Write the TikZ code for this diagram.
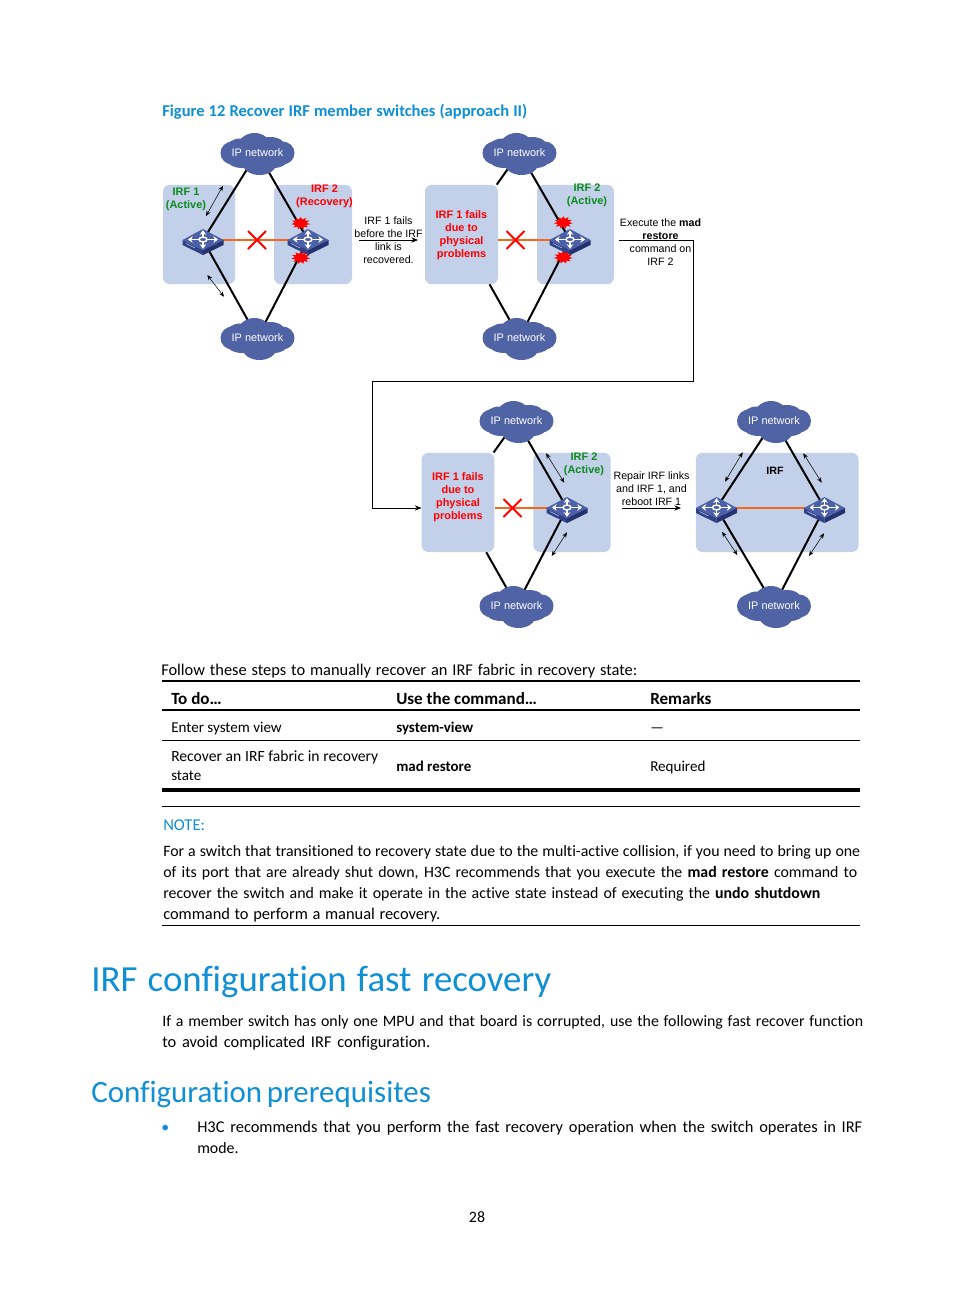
\documentclass[tikz,border=0pt]{standalone}
\usepackage{fontspec}
\setmainfont{Liberation Sans}
\newfontfamily\pagefont[Ligatures=NoCommon]{Carlito}
\usetikzlibrary{arrows.meta,shapes.geometric}
\definecolor{cloudblue}{HTML}{4F63A5}
\definecolor{panelblue}{HTML}{C2D0E9}
\definecolor{linkorange}{HTML}{F2691B}
\definecolor{headblue}{HTML}{0F8FD6}
\definecolor{okgreen}{HTML}{0B8A1E}
\definecolor{swtop}{HTML}{4B60A6}
\definecolor{swleft}{HTML}{2F4187}
\definecolor{swright}{HTML}{24326F}
\newlength{\pxu}
\setlength{\pxu}{0.75pt}
\newcommand{\fitto}[2]{\makebox[#1\pxu][s]{#2}}
\pgfdeclarelayer{panels}
\pgfdeclarelayer{links}
\pgfsetlayers{panels,links,main}
\tikzset{
  netcloud/.pic={
    \fill[cloudblue] (0,0) ellipse [x radius=30,y radius=14];
    \fill[cloudblue] (-25,0) ellipse [x radius=12,y radius=11.5];
    \fill[cloudblue] (25,0) ellipse [x radius=12,y radius=11.5];
    \fill[cloudblue] (-3,-7) ellipse [x radius=16,y radius=13];
    \fill[cloudblue] (13,-6) ellipse [x radius=15,y radius=10];
    \fill[cloudblue] (-17,-5) ellipse [x radius=14,y radius=9.5];
    \fill[cloudblue] (-15,6) ellipse [x radius=16,y radius=9];
    \fill[cloudblue] (2,10) ellipse [x radius=17,y radius=12];
    \fill[cloudblue] (16,7) ellipse [x radius=14,y radius=8];
  },
  switchicon/.pic={
    \fill[swleft] (-20.5,0) -- (0,10) -- (0,15) -- (-20.5,5) -- cycle;
    \fill[swright] (20.5,0) -- (0,10) -- (0,15) -- (20.5,5) -- cycle;
    \fill[swtop] (-20.5,0) -- (0,-11) -- (20.5,0) -- (0,10) -- cycle;
    \draw[white,line width=0.3pt] (-17,3.5) -- (-8,8);
    \draw[white,line width=1.1pt] (0,-0.5) ellipse [x radius=4,y radius=2.4];
    \draw[swarrow] (0,-3) -- (0,-9.8);
    \draw[swarrow] (0,2) -- (0,8.8);
    \draw[swarrow] (-4.5,-0.5) -- (-15,-0.5);
    \draw[swarrow] (4.5,-0.5) -- (15,-0.5);
  },
  swarrow/.style={white,line width=1.1pt,-{Stealth[length=3.5pt,width=5pt]}},
  panel/.style={fill=panelblue,rounded corners=5pt,inner sep=0pt,align=center,minimum height=74.4pt},
  nettext/.style={font=\fontsize{8.2}{10}\selectfont,text=white,inner sep=1pt,yshift=0.4pt},
  switchnode/.style={minimum width=20pt,minimum height=8pt,inner sep=0pt},
  diagtext/.style={font=\fontsize{8}{9.75}\selectfont,align=center,inner sep=0pt},
  failtext/.style={diagtext,font=\fontsize{8.2}{9.75}\selectfont\bfseries,text=red},
  oktext/.style={diagtext,font=\fontsize{8.2}{9.75}\selectfont\bfseries,text=okgreen},
  uplink/.style={line width=1.5pt,black},
  irflink/.style={line width=1.5pt,linkorange},
  flowmark/.style={line width=0.4pt,{Stealth[length=4pt,width=3.2pt]}-{Stealth[length=4pt,width=3.2pt]}},
  flowarrow/.style={line width=0.6pt,-{Stealth[length=5pt,width=4pt]}},
  crossmark/.style={red,line width=1.5pt},
  burst/.style={star,star points=11,star point ratio=1.6,fill=red,inner sep=0pt,minimum size=9.5pt,xscale=1.5,transform shape},
  pagetext/.style={anchor=base west,inner sep=0pt,font=\pagefont\fontsize{11.9}{13}\selectfont},
  widetext/.style={pagetext,font=\pagefont\fontsize{12.3}{13}\selectfont},
  celltext/.style={pagetext,font=\pagefont\fontsize{11.3}{13}\selectfont},
  cmdtext/.style={pagetext,font=\pagefont\fontsize{11.2}{13}\selectfont\bfseries},
  colhead/.style={pagetext,font=\pagefont\fontsize{12.8}{14}\selectfont\bfseries},
  headtext/.style={anchor=base west,inner sep=0pt,text=headblue}
}
\begin{document}
\begin{tikzpicture}[x=0.75pt,y=-0.75pt]
\useasboundingbox (0,0) rectangle (954,1296);
\begin{pgfonlayer}{panels}
\fill[white] (0,0) rectangle (954,1296);
\node[panel,minimum width=54pt] (irfA) at (199,234.5) {};
\node[panel,minimum width=58.5pt] (irfB) at (313,234.5) {};
\node[panel,minimum width=54.75pt] (failC) at (461.5,234.5) {};
\node[panel,minimum width=57.75pt] (irfD) at (575.5,234.5) {};
\node[panel,minimum width=54.4pt] (failE) at (458,502.4) {};
\node[panel,minimum width=58pt] (irfF) at (572,502.4) {};
\node[panel,minimum width=122pt] (irfG) at (777.2,502.4) {};
\end{pgfonlayer}

\foreach \nm/\xc/\yc in {netA/257.5/153,netB/257.5/338,netC/519.5/153,netD/519.5/338,
    netE/516.5/421,netF/516.5/606,netG/774/421,netH/774/606}{
  \pic at (\xc,\yc) {netcloud};
  \node[nettext] (\nm) at (\xc,\yc) {IP network};
}
\foreach \nm/\xc/\yc in {swA/203/240,swB/308/240,swC/570/240,swD/567/508,swE/716.5/508,swF/824.5/508}{
  \node[switchnode] (\nm) at (\xc,\yc) {};
  \pic at (\nm) {switchicon};
}

\begin{pgfonlayer}{links}
\draw[uplink] (netA) -- (swA);
\draw[uplink] (netA) -- (swB);
\draw[uplink] (netB) -- (swA);
\draw[uplink] (netB) -- (swB);
\draw[uplink] (netC) -- (failC);
\draw[uplink] (netC) -- (swC);
\draw[uplink] (netD) -- (failC);
\draw[uplink] (netD) -- (swC);
\draw[uplink] (netE) -- (failE);
\draw[uplink] (netE) -- (swD);
\draw[uplink] (netF) -- (failE);
\draw[uplink] (netF) -- (swD);
\draw[uplink] (netG) -- (swE);
\draw[uplink] (netG) -- (swF);
\draw[uplink] (netH) -- (swE);
\draw[uplink] (netH) -- (swF);
\draw[irflink] (swA) -- (swB);
\draw[irflink] (failC.east |- swC) -- (swC);
\draw[irflink] (failE.east |- swD) -- (swD);
\draw[irflink] (swE) -- (swF);
\end{pgfonlayer}

\foreach \nm/\xc/\yc in {xA/257/240,xB/515.5/240,xC/512.5/508}{
  \coordinate (\nm) at (\xc,\yc);
  \draw[crossmark] ([shift={(-9,-9)}]\nm) -- ([shift={(9,9)}]\nm);
  \draw[crossmark] ([shift={(-9,9)}]\nm) -- ([shift={(9,-9)}]\nm);
}
\foreach \nm/\xc/\yc in {boomA/300.7/223.3,boomB/300.7/257.7,boomC/563.3/222.5,boomD/563.3/257.3}{
  \node[burst] (\nm) at (\xc,\yc) {};
}
\foreach \nm/\xa/\ya/\xb/\yb in {mA/223/185.7/206/216,mB/207.3/275/224/296.7,mC/546/453.3/564.3/482.7,
    mD/567/532.3/551.7/556,mE/742.7/452.3/725/481.7,mF/803.3/453.3/821.7/482.7,
    mG/722/531.7/737.3/555,mH/824/533.3/809/556}{
  \coordinate (\nm s) at (\xa,\ya);
  \coordinate (\nm t) at (\xb,\yb);
  \draw[flowmark] (\nm s) -- (\nm t);
}

\node[failtext] (lblC) at (461.5,235) {IRF 1 fails\\due to\\physical\\problems};
\node[failtext] (lblE) at (458,497.5) {IRF 1 fails\\due to\\physical\\problems};
\node[oktext] (lblA) at (186,199.5) {IRF 1\\(Active)};
\node[failtext] (lblB) at (324.5,196) {IRF 2\\(Recovery)};
\node[oktext] (lblD) at (587,195.7) {IRF 2\\(Active)};
\node[oktext] (lblF) at (584,464.3) {IRF 2\\(Active)};
\node[diagtext,font=\fontsize{8}{9.75}\selectfont\bfseries] (lblG) at (775,470.5) {IRF};

\coordinate (flowAs) at (359,240);
\coordinate (flowAt) at (418,240);
\draw[flowarrow] (flowAs) -- (flowAt);
\node[diagtext] (noteA) at (388.5,240.5) {IRF 1 fails\\before the IRF\\link is\\recovered.};

\coordinate (flowBs) at (619,240);
\coordinate (flowBa) at (693.5,381);
\coordinate (flowBb) at (372.5,381);
\coordinate (flowBt) at (421.5,508);
\draw[flowarrow] (flowBs) -| (flowBa) -- (flowBb) |- (flowBt);
\node[diagtext] (noteB) at (660.5,242.5) {Execute the \textbf{mad}\\\textbf{restore}\\command on\\IRF 2};

\coordinate (flowCs) at (622,508);
\coordinate (flowCt) at (681,508);
\draw[flowarrow] (flowCs) -- (flowCt);
\node[diagtext] (noteC) at (651.5,488.5) {Repair IRF links\\and IRF 1, and\\reboot IRF 1};

\foreach \yr/\wr in {681/2pt,710/1.2pt,740.3/0.7pt,790/3pt,806.7/0.7pt,925/0.7pt}{
  \draw[line width=\wr] (162,\yr) -- (860,\yr);
}

\node[headtext,font=\pagefont\fontsize{12.4}{14}\selectfont\bfseries] (figtitle) at (162,116) {\fitto{365}{Figure 12 Recover IRF member switches (approach II)}};
\node[widetext] (intro) at (161,675) {\fitto{476}{Follow these steps to manually recover an IRF fabric in recovery state:}};
\node[colhead] (colA) at (171,704) {To do…};
\node[colhead] (colB) at (396,704) {Use the command…};
\node[colhead] (colC) at (650,704) {Remarks};
\node[celltext] (cellA) at (171,732) {Enter system view};
\node[cmdtext] (cellB) at (396,732) {system-view};
\node[celltext] (cellC) at (650,732) {—};
\node[celltext,font=\pagefont\fontsize{11.7}{13}\selectfont] (cellD) at (171,761.5) {\fitto{207}{Recover an IRF fabric in recovery}};
\node[celltext] (cellE) at (171,780) {state};
\node[cmdtext] (cellF) at (396,771) {mad restore};
\node[celltext] (cellG) at (650,771) {Required};

\node[headtext,font=\pagefont\fontsize{12.4}{14}\selectfont] (notehead) at (163,830) {NOTE:};
\node[pagetext] (paraA) at (163,856.5) {\fitto{697}{For a switch that transitioned to recovery state due to the multi-active collision, if you need to bring up one}};
\node[pagetext] (paraB) at (163,877.5) {\fitto{694}{of its port that are already shut down, H3C recommends that you execute the \textbf{mad restore} command to}};
\node[pagetext] (paraC) at (163,898.5) {\fitto{657}{recover the switch and make it operate in the active state instead of executing the \textbf{undo shutdown}}};
\node[widetext] (paraD) at (163,919.5) {\fitto{277}{command to perform a manual recovery.}};

\node[headtext,font=\pagefont\fontsize{27.6}{32}\selectfont] (chapter) at (91,991) {\fitto{460}{IRF configuration fast recovery}};
\node[pagetext] (bodyA) at (162,1026.5) {\fitto{701}{If a member switch has only one MPU and that board is corrupted, use the following fast recover function}};
\node[widetext] (bodyB) at (162,1047.5) {\fitto{268}{to avoid complicated IRF configuration.}};
\node[headtext,font=\pagefont\fontsize{23.2}{28}\selectfont] (section) at (91,1102) {\fitto{337}{Configuration prerequisites}};
\node[pagetext,text=headblue] (dot) at (161,1132.5) {•};
\node[widetext] (itemA) at (197,1132.5) {\fitto{665}{H3C recommends that you perform the fast recovery operation when the switch operates in IRF}};
\node[pagetext] (itemB) at (197,1153.5) {mode.};
\node[pagetext,anchor=base] (pageno) at (477,1222.5) {28};
\end{tikzpicture}
\end{document}
